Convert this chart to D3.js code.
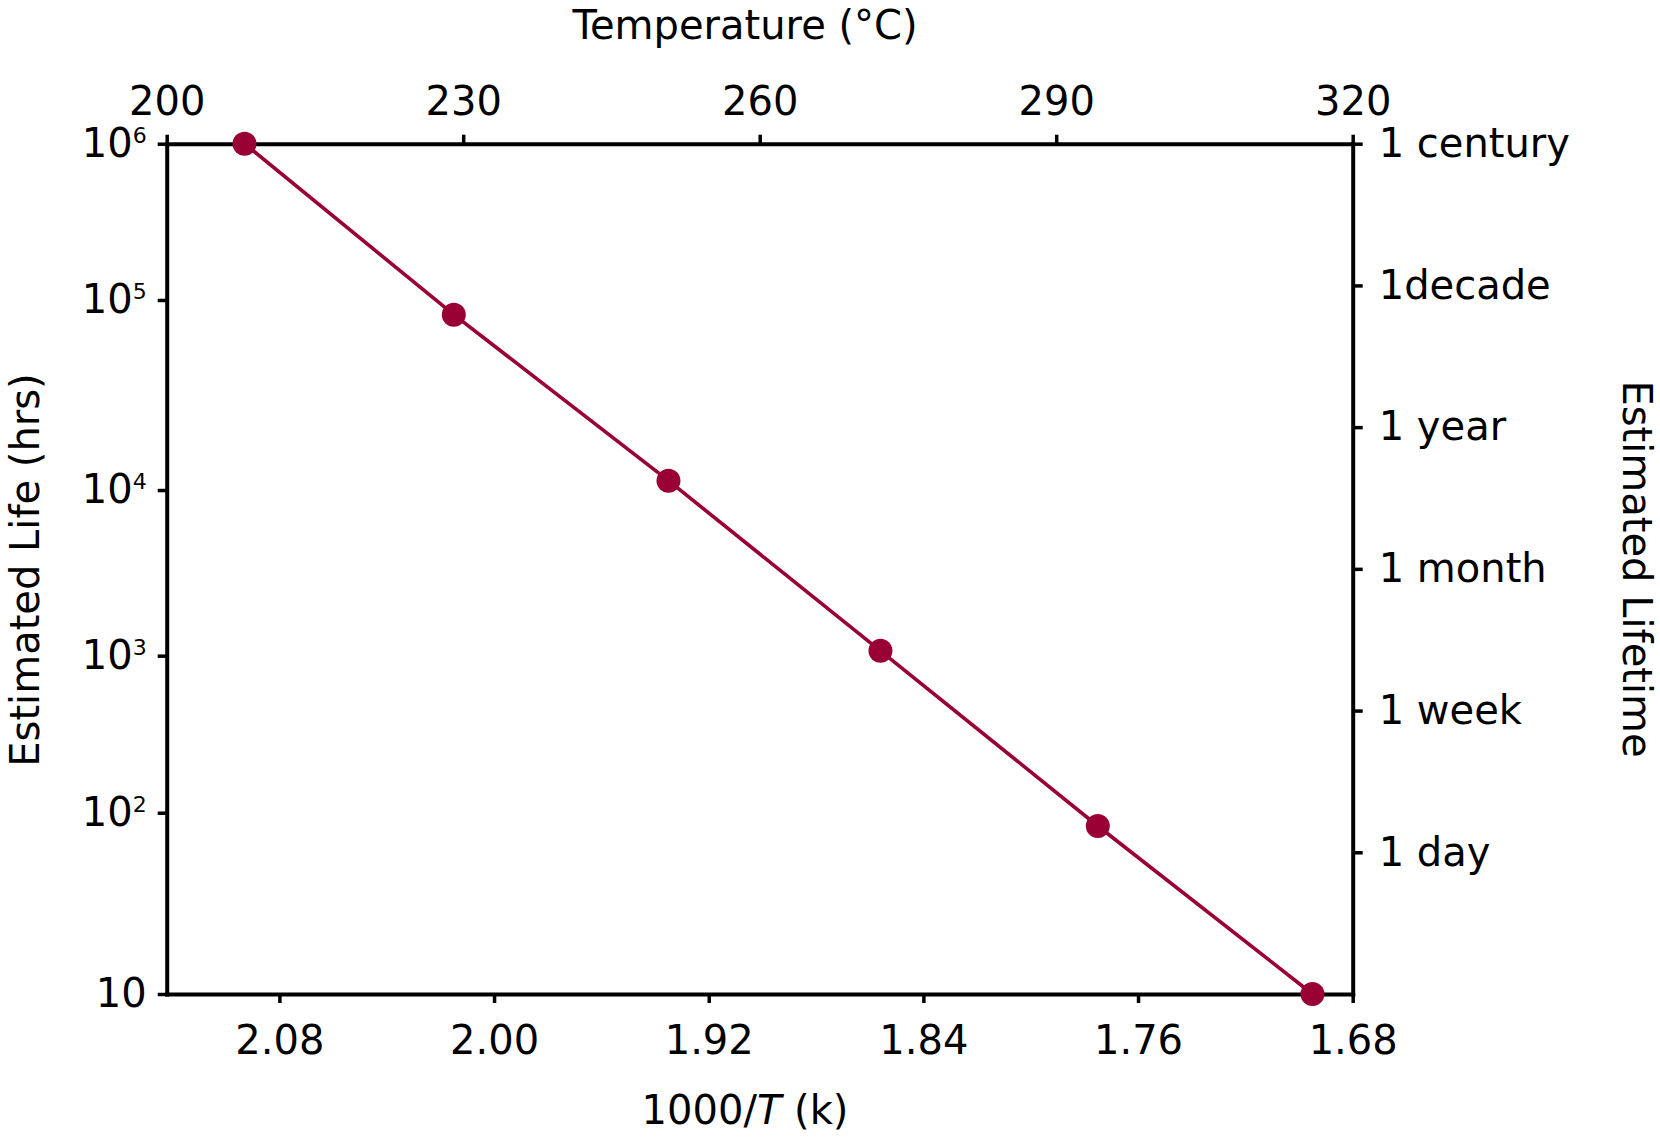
<!DOCTYPE html>
<html>
<head>
<meta charset="utf-8">
<title>Estimated Life vs 1000/T</title>
<script src="https://cdn.jsdelivr.net/npm/d3@7"></script>
<style>
    body { margin: 0; background: #fff; }
    text { font-family: "DejaVu Sans", sans-serif; fill: #000; }
    .axis .domain { stroke: #000; stroke-width: 4px; stroke-linecap: square; }
    .axis .tick line { stroke: #000; stroke-width: 3.5px; }
    .axis text { font-size: 40px; font-family: "DejaVu Sans", sans-serif; }
</style>
</head>
<body>
<svg id="chart" width="1660" height="1139"></svg>
<script>
    // data
    const invTemp = [2.093, 2.015, 1.935, 1.856, 1.775, 1.695];      // 1000/T
    const lifeHrs = [1000000, 83700, 11200, 1070, 84.5, 10];          // hours
    const invTempTicks = [2.08, 2.00, 1.92, 1.84, 1.76, 1.68];
    const tempTicks = [200, 230, 260, 290, 320];
    const lifeTicks = [1e6, 1e5, 1e4, 1e3, 1e2, 10];
    const lifetimeLabels = ["1 century", "1decade", "1 year", "1 month", "1 week", "1 day"];

    const width = 1660, height = 1139;
    const margin = { top: 143.7, right: 307.3, bottom: 145, left: 166.7 };
    const innerW = width - margin.left - margin.right;
    const innerH = height - margin.top - margin.bottom;

    const svg = d3.select("#chart");
    const g = svg.append("g").attr("transform", `translate(${margin.left},${margin.top})`);

    const x = d3.scaleLinear().domain([2.122, 1.68]).range([0, innerW]);
    const xTop = d3.scaleLinear().domain([200, 320]).range([0, innerW]);
    // the decades on the original axis are not evenly spaced, keep that
    const decadeStops = [0, 0.1838, 0.4073, 0.6021, 0.7868, 1];
    const y = d3.scaleLog().domain(lifeTicks).range(decadeStops.map(f => f * innerH));
    const yRight = d3.scaleLinear().domain([0, 6]).range([0, innerH]);

    // bottom axis
    g.append("g").attr("class", "axis").attr("transform", `translate(0,${innerH})`)
        .call(d3.axisBottom(x).tickValues(invTempTicks).tickFormat(d3.format(".2f"))
            .tickSize(9).tickPadding(23).tickSizeOuter(0));

    // top axis
    g.append("g").attr("class", "axis")
        .call(d3.axisTop(xTop).tickValues(tempTicks).tickSize(9).tickPadding(20).tickSizeOuter(0));

    // left axis with powers of ten
    const left = g.append("g").attr("class", "axis")
        .call(d3.axisLeft(y).tickValues(lifeTicks).tickFormat(() => "")
            .tickSize(9).tickPadding(11).tickSizeOuter(0));
    left.selectAll(".tick text").each(function(d) {
        const e = Math.round(Math.log10(d));
        const t = d3.select(this);
        t.append("tspan").text("10");
        if (e > 1) t.append("tspan").attr("dy", "-14").style("font-size", "22px").text(e);
    });

    // right axis
    g.append("g").attr("class", "axis").attr("transform", `translate(${innerW},0)`)
        .call(d3.axisRight(yRight).tickValues(d3.range(lifetimeLabels.length))
            .tickFormat(i => lifetimeLabels[i]).tickSize(10).tickPadding(16).tickSizeOuter(0));

    // line + markers
    const pts = invTemp.map((v, i) => ({ v, h: lifeHrs[i] }));
    const line = d3.line().x(d => x(d.v)).y(d => y(d.h));
    g.append("path").datum(pts).attr("d", line)
        .attr("fill", "none").attr("stroke", "#990033").attr("stroke-width", 3.6);
    g.selectAll(".dot").data(pts).enter().append("circle")
        .attr("class", "dot").attr("cx", d => x(d.v)).attr("cy", d => y(d.h))
        .attr("r", 12).attr("fill", "#990033");

    // titles
    svg.append("text").attr("x", 745).attr("y", 39).attr("text-anchor", "middle")
        .style("font-size", "40px").text("Temperature (°C)");

    const bt = svg.append("text").attr("x", 745).attr("y", 1124).attr("text-anchor", "middle")
        .style("font-size", "40px");
    bt.append("tspan").text("1000/");
    bt.append("tspan").style("font-style", "italic").text("T");
    bt.append("tspan").text(" (k)");

    svg.append("text").attr("transform", "translate(39,570) rotate(-90)")
        .attr("text-anchor", "middle").style("font-size", "40px").text("Estimated Life (hrs)");

    svg.append("text").attr("transform", "translate(1623,569) rotate(90)")
        .attr("text-anchor", "middle").style("font-size", "40px").text("Estimated Lifetime");
</script>
</body>
</html>
